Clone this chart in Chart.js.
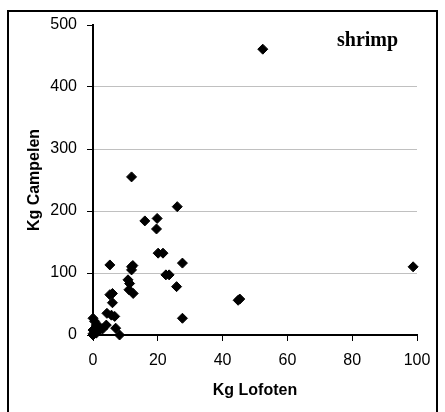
<!DOCTYPE html>
<html>
<head>
<meta charset="utf-8">
<script src="https://cdn.jsdelivr.net/npm/chart.js@4/dist/chart.umd.min.js"></script>
<style>
  body { margin: 0; background: #fff; }
  #wrap { position: relative; width: 445px; height: 412px; overflow: hidden; }
  #frame {
    position: absolute; left: 7px; top: 10px; width: 427px; height: 420px;
    border: 2px solid #000; pointer-events: none;
  }
</style>
</head>
<body>
<div id="wrap">
  <canvas id="shrimp-chart" width="445" height="412"></canvas>
  <div id="frame"></div>
</div>
<script>
const lofotenKg = [52.4, 98.8, 11.9, 26, 16, 19.8, 19.6, 20.1, 21.6, 5.2,
  11.9, 11.9, 27.6, 22.5, 23.5, 25.8, 44.8, 45.3, 27.6, 10.8,
  11.3, 11.1, 12.4, 5.2, 6, 6, 4.3, 5.7, 6.7, 4.1,
  7, 8.2, 0, 0.5, 1, 2, 0, 0, 1, 2, 0, 3, 12.3];
const campelenKg = [461, 110, 255, 207, 184, 188, 171, 132, 132, 113,
  110, 105, 116, 97, 97, 78, 56, 58, 27, 89,
  83, 73, 67, 65, 67, 52, 35, 32, 30, 16,
  11, 0, 27, 22, 16, 13, 8, 0, 3, 8, 2, 10, 112];
const xTicks = [0, 20, 40, 60, 80, 100];
const yTicks = [0, 100, 200, 300, 400, 500];

Chart.defaults.font.family = '"Liberation Sans", Arial, sans-serif';
Chart.defaults.font.size = 16;
Chart.defaults.color = '#000';

const points = lofotenKg.map((x, i) => ({ x: x, y: campelenKg[i] }));

// little label inside the plot, top right
const shrimpLabel = {
  id: 'shrimpLabel',
  afterDraw(chart) {
    const ctx = chart.ctx;
    ctx.save();
    ctx.font = 'bold 20px "Liberation Serif", "Times New Roman", serif';
    ctx.fillStyle = '#000';
    ctx.textBaseline = 'alphabetic';
    ctx.fillText('shrimp', 337, 46);
    ctx.restore();
  }
};

const config = {
  type: 'scatter',
  data: {
    datasets: [{
      data: points,
      pointStyle: 'rectRot',
      pointRadius: 5,
      pointBorderWidth: 1,
      backgroundColor: '#000',
      borderColor: '#000',
      clip: false,
    }],
  },
  options: {
    responsive: false,
    animation: false,
    layout: { padding: { left: 0, top: 25, right: 28, bottom: 0 } },
    plugins: {
      legend: { display: false },
      tooltip: { enabled: false },
    },
    scales: {
      x: {
        type: 'linear',
        min: 0,
        max: 100,
        afterBuildTicks: (s) => { s.ticks = xTicks.map(v => ({ value: v })); },
        afterFit: (s) => { s.height = 77; },
        ticks: { padding: 10, maxRotation: 0 },
        grid: { drawOnChartArea: false, tickLength: 6, tickColor: '#000', tickWidth: 1 },
        border: { color: '#000', width: 2 },
        title: {
          display: true,
          text: 'Kg Lofoten',
          font: { weight: 'bold', size: 16 },
          padding: { top: 0, bottom: 12 },
        },
      },
      y: {
        type: 'linear',
        min: 0,
        max: 500,
        afterBuildTicks: (s) => { s.ticks = yTicks.map(v => ({ value: v })); },
        afterFit: (s) => { s.width = 93; },
        ticks: { padding: 10 },
        grid: {
          color: (c) => (c.tick && c.tick.value > 0 && c.tick.value < 500) ? '#c0c0c0' : 'rgba(0,0,0,0)',
          tickLength: 6,
          tickColor: '#000',
          tickWidth: 1,
        },
        border: { color: '#000', width: 2 },
        title: {
          display: true,
          text: 'Kg Campelen',
          font: { weight: 'bold', size: 16 },
          padding: { top: 25, bottom: 0 },
        },
      },
    },
  },
  plugins: [shrimpLabel],
};

const myChart = new Chart(document.getElementById('shrimp-chart'), config);
</script>
</body>
</html>
